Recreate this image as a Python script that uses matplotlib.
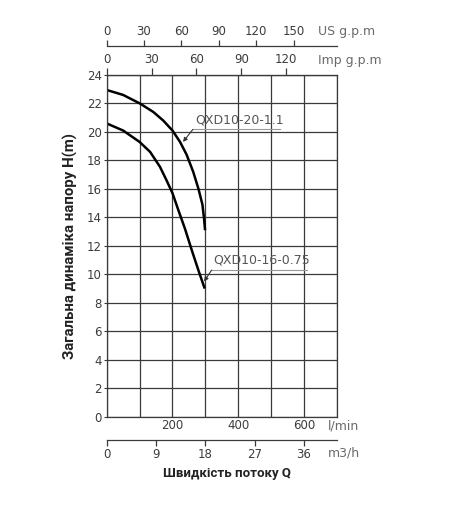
import matplotlib
matplotlib.use("Agg")
import numpy as np
import matplotlib.pyplot as plt

plt.rcParams["font.family"] = ["DejaVu Sans"]

# pump curves, flow in l/min, head in m
flow_20 = [0, 50, 101, 142, 172, 200, 223, 243, 263, 279, 291, 296, 299]
head_20 = [22.95, 22.6, 22.0, 21.4, 20.8, 20.1, 19.3, 18.4, 17.2, 16.0, 14.9, 13.9, 13.1]
flow_16 = [0, 50, 100, 132, 162, 182, 200, 218, 238, 260, 280, 298]
head_16 = [20.6, 20.1, 19.3, 18.6, 17.55, 16.6, 15.7, 14.5, 13.2, 11.6, 10.2, 9.0]
names = ["QXD10-20-1.1", "QXD10-16-0.75"]

lmin_ticks = [200, 400, 600]
m3h_ticks = [0, 9, 18, 27, 36]
us_ticks = [0, 30, 60, 90, 120, 150]
imp_ticks = [0, 30, 60, 90, 120]
h_ticks = list(range(0, 25, 2))

US = 3.78541
IMP = 4.54609
M3H = 1000 / 60

TXT = "#3c3c3c"
GRID = "#3a3a3a"
UNIT = "#6a6a6a"
FS = 8.5

fig = plt.figure(figsize=(4.71, 5.12), dpi=100)
ax = fig.add_axes([0.2265, 0.1861, 0.489, 0.6674])
ax.set_xlim(0, 700)
ax.set_ylim(0, 24)
ax.set_xticks(np.arange(0, 701, 100), minor=True)
ax.set_yticks(h_ticks)
ax.set_xticks(lmin_ticks)
ax.grid(True, which="both", color=GRID, lw=0.9)
ax.tick_params(axis="x", which="both", length=0, pad=2, labelsize=FS, labelcolor=TXT)
ax.tick_params(axis="y", length=2, pad=1.5, labelsize=FS, labelcolor=TXT, color=GRID)
for s in ax.spines.values():
    s.set_color(GRID)
    s.set_linewidth(0.9)

ax.plot(flow_20, head_20, color="black", lw=1.8, solid_capstyle="butt", solid_joinstyle="round")
ax.plot(flow_16, head_16, color="black", lw=1.8, solid_capstyle="butt", solid_joinstyle="round")

# curve labels with underline + leader arrow
arrow = dict(arrowstyle="-|>", color="#333333", lw=0.8, mutation_scale=6,
             shrinkA=0, shrinkB=0)
ax.text(268, 20.84, names[0], fontsize=9, color="#555555", va="center", ha="left")
ax.plot([262, 527], [20.18, 20.18], color="#999999", lw=0.8)
ax.annotate("", xy=(232, 19.3), xytext=(262, 20.18), arrowprops=arrow)
ax.text(324, 11.0, names[1], fontsize=9, color="#555555", va="center", ha="left")
ax.plot([319, 609], [10.3, 10.3], color="#999999", lw=0.8)
ax.annotate("", xy=(296, 9.5), xytext=(319, 10.3), arrowprops=arrow)

# top axes: Imp g.p.m on the frame, US g.p.m above
imp = ax.secondary_xaxis("top", functions=(lambda q: q / IMP, lambda g: g * IMP))
imp.set_xticks(imp_ticks)
imp.tick_params(direction="out", length=5, width=0.9, pad=1.5, labelsize=FS,
                labelcolor=TXT, color=GRID)
imp.spines["top"].set_color(GRID)

us = ax.secondary_xaxis(1.0857, functions=(lambda q: q / US, lambda g: g * US))
us.set_xticks(us_ticks)
us.tick_params(direction="out", length=4, width=0.9, pad=1.5, labelsize=FS,
               labelcolor=TXT, color=GRID)
us.spines["top"].set_color(GRID)
us.spines["top"].set_linewidth(0.9)

m3 = ax.secondary_xaxis(-0.0681, functions=(lambda q: q / M3H, lambda v: v * M3H))
m3.set_xticks(m3h_ticks)
m3.tick_params(direction="out", length=4, width=0.9, pad=1.5, labelsize=FS,
               labelcolor=TXT, color=GRID)
m3.spines["bottom"].set_color(GRID)
m3.spines["bottom"].set_linewidth(0.9)

ax.text(0.961, -0.027, "l/min", transform=ax.transAxes, fontsize=9, color=UNIT,
        ha="left", va="center")
ax.text(0.961, -0.105, "m3/h", transform=ax.transAxes, fontsize=9, color=UNIT,
        ha="left", va="center")
ax.text(0.9175, 1.043, "Imp g.p.m", transform=ax.transAxes, fontsize=9, color=UNIT,
        ha="left", va="center")
ax.text(0.9175, 1.128, "US g.p.m", transform=ax.transAxes, fontsize=9, color=UNIT,
        ha="left", va="center")

fig.text(227 / 471, 1 - 473 / 512, "Швидкість потоку Q", fontsize=9.5,
         fontweight="bold", color="#222222", ha="center", va="center",
         family=["Roboto", "DejaVu Sans"])
fig.text(70 / 471, 1 - 246 / 512, "Загальна динаміка напору H(m)", fontsize=10.8,
         fontweight="bold", color="#222222", ha="center", va="center", rotation=90,
         family=["Roboto", "DejaVu Sans"])

fig.savefig("out.png", dpi=100)
